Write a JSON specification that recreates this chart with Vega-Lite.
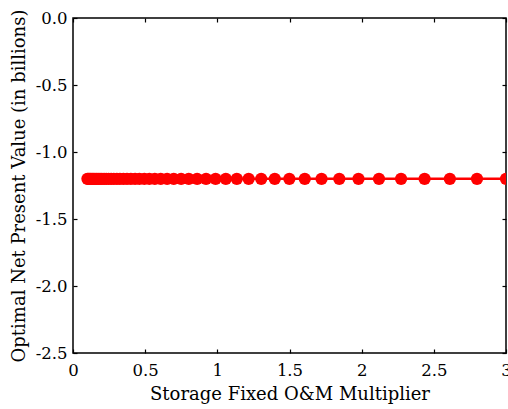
{
  "$schema": "https://vega.github.io/schema/vega-lite/v6.json",
  "width": 433,
  "height": 335,
  "autosize": {"type": "none"},
  "padding": {"left": 73, "top": 18, "right": 2, "bottom": 56},
  "background": "white",
  "config": {
    "view": {"stroke": "black", "strokeWidth": 1.5},
    "font": "DejaVu Serif",
    "axis": {
      "domain": false,
      "grid": false,
      "tickColor": "black",
      "tickWidth": 1.2,
      "tickSize": -4,
      "labelFont": "DejaVu Serif",
      "labelFontSize": 16.5,
      "labelColor": "black",
      "titleFont": "DejaVu Serif",
      "titleFontSize": 18,
      "titleFontWeight": "normal",
      "titleColor": "black"
    }
  },
  "data": {
    "values": [
      {"x": 0.1, "y": -1.2}, {"x": 0.107, "y": -1.2}, {"x": 0.115, "y": -1.2}, {"x": 0.123, "y": -1.2},
      {"x": 0.132, "y": -1.2}, {"x": 0.141, "y": -1.2}, {"x": 0.152, "y": -1.2}, {"x": 0.163, "y": -1.2},
      {"x": 0.174, "y": -1.2}, {"x": 0.187, "y": -1.2}, {"x": 0.2, "y": -1.2}, {"x": 0.215, "y": -1.2},
      {"x": 0.23, "y": -1.2}, {"x": 0.247, "y": -1.2}, {"x": 0.264, "y": -1.2}, {"x": 0.283, "y": -1.2},
      {"x": 0.304, "y": -1.2}, {"x": 0.325, "y": -1.2}, {"x": 0.349, "y": -1.2}, {"x": 0.374, "y": -1.2},
      {"x": 0.401, "y": -1.2}, {"x": 0.43, "y": -1.2}, {"x": 0.46, "y": -1.2}, {"x": 0.494, "y": -1.2},
      {"x": 0.529, "y": -1.2}, {"x": 0.567, "y": -1.2}, {"x": 0.608, "y": -1.2}, {"x": 0.652, "y": -1.2},
      {"x": 0.698, "y": -1.2}, {"x": 0.749, "y": -1.2}, {"x": 0.802, "y": -1.2}, {"x": 0.86, "y": -1.2},
      {"x": 0.922, "y": -1.2}, {"x": 0.988, "y": -1.2}, {"x": 1.059, "y": -1.2}, {"x": 1.135, "y": -1.2},
      {"x": 1.217, "y": -1.2}, {"x": 1.304, "y": -1.2}, {"x": 1.398, "y": -1.2}, {"x": 1.499, "y": -1.2},
      {"x": 1.606, "y": -1.2}, {"x": 1.722, "y": -1.2}, {"x": 1.845, "y": -1.2}, {"x": 1.978, "y": -1.2},
      {"x": 2.12, "y": -1.2}, {"x": 2.273, "y": -1.2}, {"x": 2.436, "y": -1.2}, {"x": 2.611, "y": -1.2},
      {"x": 2.799, "y": -1.2}, {"x": 3.0, "y": -1.2}
    ]
  },
  "layer": [
    {
      "mark": {"type": "line", "color": "#ff0000", "strokeWidth": 2.5, "clip": true,
               "point": {"filled": true, "color": "#ff0000", "opacity": 1, "size": 150}},
      "encoding": {
        "x": {"field": "x", "type": "quantitative", "scale": {"domain": [0, 3], "nice": false},
              "axis": {"orient": "bottom", "title": "Storage Fixed O&M Multiplier", "values": [0, 0.5, 1, 1.5, 2, 2.5, 3],
                       "labelExpr": "format(datum.value, '~g')",
                       "labelPadding": 13, "titlePadding": 7, "labelFlush": false, "labelOverlap": false}},
        "y": {"field": "y", "type": "quantitative", "scale": {"domain": [-2.5, 0], "nice": false},
              "axis": {"orient": "left", "title": "Optimal Net Present Value (in billions)", "values": [-2.5, -2, -1.5, -1, -0.5, 0],
                       "labelExpr": "replace(format(datum.value, '.1f'), '\u2212', '-')",
                       "labelPadding": 10, "titlePadding": 7, "labelFlush": false, "labelOverlap": false}}
      }
    },
    {
      "mark": {"type": "point", "opacity": 0},
      "encoding": {
        "x": {"field": "x", "type": "quantitative",
              "axis": {"orient": "top", "title": null, "labels": false, "values": [0, 0.5, 1, 1.5, 2, 2.5, 3]}},
        "y": {"field": "y", "type": "quantitative",
              "axis": {"orient": "right", "title": null, "labels": false, "values": [-2.5, -2, -1.5, -1, -0.5, 0]}}
      }
    }
  ],
  "resolve": {"axis": {"x": "independent", "y": "independent"}}
}
